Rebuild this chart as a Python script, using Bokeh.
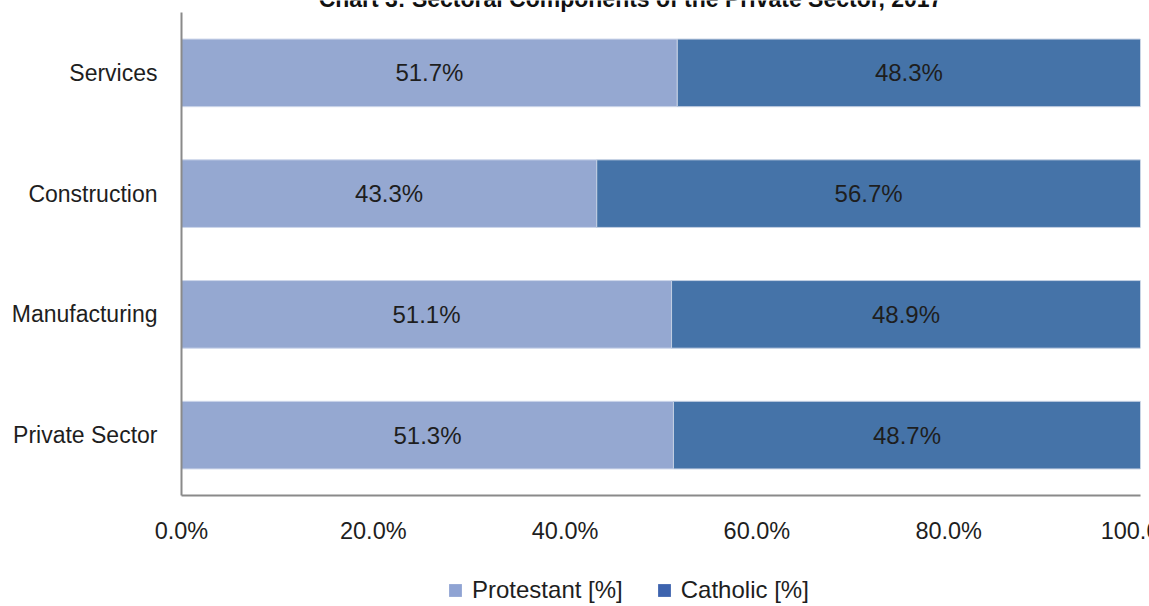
from bokeh.plotting import figure
from bokeh.layouts import column
from bokeh.models import (FactorRange, Range1d, FixedTicker, PrintfTickFormatter,
                          ColumnDataSource, Legend, LegendItem, Label,
                          GlobalInlineStyleSheet)
from bokeh.core.properties import value
from bokeh.embed import file_html
from bokeh.resources import INLINE

# ---- data ----
sectors = ["Services", "Construction", "Manufacturing", "Private Sector"]
protestant = [51.7, 43.3, 51.1, 51.3]
catholic = [48.3, 56.7, 48.9, 48.7]
x_ticks = [0, 20, 40, 60, 80, 100]
series_names = ["Protestant [%]", "Catholic [%]"]
title_text = "Chart 3: Sectoral Components of the Private Sector, 2017"

# ---- styles ----
FONT = value("Liberation Sans")
PROT_COLOR = "#95A8D1"
CATH_COLOR = "#4573A8"
PROT_LEG = "#8FA3D3"
CATH_LEG = "#3D63AE"
TEXT_COLOR = "#1e1e1e"
AXIS_COLOR = "#8a8a8a"
W = 1190          # wider than the window: the last tick label is cut by the window edge
BL, BR = 181, 50  # frame borders (left / right)

total = [p + c for p, c in zip(protestant, catholic)]
src = ColumnDataSource(dict(
    sector=sectors,
    prot=protestant,
    total=total,
    prot_mid=[p / 2 for p in protestant],
    cath_mid=[p + c / 2 for p, c in zip(protestant, catholic)],
    prot_lbl=[f"{p:.1f}%" for p in protestant],
    cath_lbl=[f"{c:.1f}%" for c in catholic],
))

# ---- title strip (only the lower part of the title is inside the page) ----
tf = figure(width=W, height=12, x_range=Range1d(0, 1), y_range=Range1d(0, 1),
            x_axis_type=None, y_axis_type=None, output_backend="svg",
            toolbar_location=None, outline_line_color=None,
            min_border_left=BL, min_border_right=BR, min_border_top=0, min_border_bottom=0)
tf.xgrid.grid_line_color = None
tf.ygrid.grid_line_color = None
tf.add_layout(Label(x=449, y=14, x_units="screen", y_units="screen", text=title_text,
                    text_align="center", text_baseline="alphabetic",
                    text_font="Liberation Sans", text_font_style="bold",
                    text_font_size="23px", text_color="#111111"))

# ---- main chart ----
p = figure(
    width=W, height=548,
    x_range=Range1d(0, 100),
    y_range=FactorRange(factors=list(reversed(sectors)), range_padding=0),
    output_backend="svg", toolbar_location=None,
    min_border_left=BL, min_border_right=BR, min_border_top=0, min_border_bottom=65,
    outline_line_color=None,
)
p.xgrid.grid_line_color = None
p.ygrid.grid_line_color = None

p.hbar(y="sector", left=0, right="prot", height=0.56, source=src,
       fill_color=PROT_COLOR, line_color="#cdd6ea", line_width=1)
p.hbar(y="sector", left="prot", right="total", height=0.56, source=src,
       fill_color=CATH_COLOR, line_color="#c3cfe2", line_width=1)

for xcol, tcol in (("prot_mid", "prot_lbl"), ("cath_mid", "cath_lbl")):
    p.text(x=xcol, y="sector", text=tcol, source=src, text_align="center",
           text_baseline="middle", text_font=FONT, text_font_size="24px",
           text_color=TEXT_COLOR)

for ax in (p.xaxis[0], p.yaxis[0]):
    ax.major_tick_line_color = None
    ax.minor_tick_line_color = None
    ax.major_tick_out = 0
    ax.major_tick_in = 0
    ax.axis_line_color = AXIS_COLOR
    ax.axis_line_width = 2
    ax.major_label_text_font = "Liberation Sans"
    ax.major_label_text_color = TEXT_COLOR

p.xaxis.ticker = FixedTicker(ticks=x_ticks)
p.xaxis.formatter = PrintfTickFormatter(format="%.1f%%")
p.xaxis.major_label_text_font_size = "23.5px"
p.xaxis.major_label_standoff = 22
p.yaxis.major_label_text_font_size = "23px"
p.yaxis.major_label_standoff = 24

# ---- legend strip ----
lf = figure(width=W, height=46, x_range=Range1d(0, 1), y_range=Range1d(0, 1),
            x_axis_type=None, y_axis_type=None, output_backend="svg",
            toolbar_location=None, outline_line_color=None,
            min_border_left=BL, min_border_right=BR, min_border_top=0, min_border_bottom=0)
lf.xgrid.grid_line_color = None
lf.ygrid.grid_line_color = None
nan = float("nan")
dummy = ColumnDataSource(dict(y=[nan], l=[nan], r=[nan]))
r_prot = lf.hbar(y="y", left="l", right="r", height=0.5, source=dummy,
                 fill_color=PROT_LEG, line_color=None)
r_cath = lf.hbar(y="y", left="l", right="r", height=0.5, source=dummy,
                 fill_color=CATH_LEG, line_color=None)
legend = Legend(
    items=[LegendItem(label=series_names[0], renderers=[r_prot]),
           LegendItem(label=series_names[1], renderers=[r_cath])],
    orientation="horizontal", location=(266, 2),
    glyph_width=16, glyph_height=16, label_standoff=9, spacing=33,
    padding=0, margin=0, border_line_color=None, background_fill_alpha=0,
    label_text_font="Liberation Sans", label_text_font_size="24px",
    label_text_color=TEXT_COLOR, label_height=16,
)
lf.add_layout(legend, "center")

layout = column(tf, p, lf, spacing=0)
layout.stylesheets = [GlobalInlineStyleSheet(
    css="html, body { margin: 0 !important; padding: 0 !important; overflow: hidden; }")]

open("out.html", "w").write(file_html(layout, INLINE))
